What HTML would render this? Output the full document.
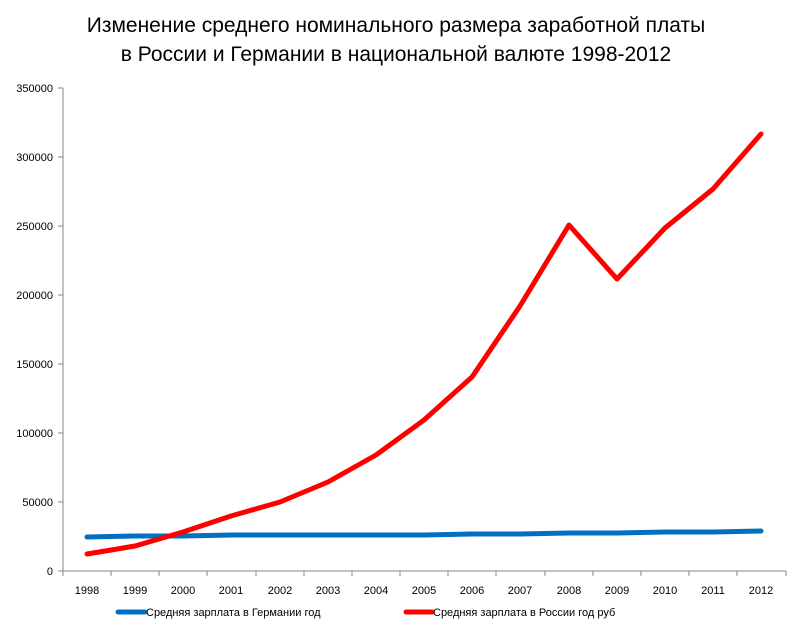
<!DOCTYPE html>
<html><head><meta charset="utf-8"><style>body{margin:0;background:#fff}</style></head><body>
<svg width="793" height="630" xmlns="http://www.w3.org/2000/svg" font-family="Liberation Sans, DejaVu Sans, sans-serif">
<rect width="793" height="630" fill="#fff"/>
<text x="396" y="32" font-size="21" text-anchor="middle" fill="#000">Изменение среднего номинального размера заработной платы</text>
<text x="396" y="61" font-size="21" text-anchor="middle" fill="#000">в России и Германии в национальной валюте 1998-2012</text>
<g stroke="#868686" stroke-width="1">
<line x1="63" y1="88" x2="63" y2="571"/>
<line x1="63" y1="571" x2="786" y2="571"/>
<line x1="58" y1="88" x2="63" y2="88"/><line x1="58" y1="157" x2="63" y2="157"/><line x1="58" y1="226" x2="63" y2="226"/><line x1="58" y1="295" x2="63" y2="295"/><line x1="58" y1="364" x2="63" y2="364"/><line x1="58" y1="433" x2="63" y2="433"/><line x1="58" y1="502" x2="63" y2="502"/><line x1="58" y1="571" x2="63" y2="571"/>
<line x1="63" y1="571" x2="63" y2="576"/><line x1="111" y1="571" x2="111" y2="576"/><line x1="159" y1="571" x2="159" y2="576"/><line x1="207" y1="571" x2="207" y2="576"/><line x1="256" y1="571" x2="256" y2="576"/><line x1="304" y1="571" x2="304" y2="576"/><line x1="352" y1="571" x2="352" y2="576"/><line x1="400" y1="571" x2="400" y2="576"/><line x1="448" y1="571" x2="448" y2="576"/><line x1="496" y1="571" x2="496" y2="576"/><line x1="545" y1="571" x2="545" y2="576"/><line x1="593" y1="571" x2="593" y2="576"/><line x1="641" y1="571" x2="641" y2="576"/><line x1="689" y1="571" x2="689" y2="576"/><line x1="737" y1="571" x2="737" y2="576"/><line x1="786" y1="571" x2="786" y2="576"/>
</g>
<g font-size="11" fill="#000" text-anchor="end">
<text x="53" y="92">350000</text><text x="53" y="161">300000</text><text x="53" y="230">250000</text><text x="53" y="299">200000</text><text x="53" y="368">150000</text><text x="53" y="437">100000</text><text x="53" y="506">50000</text><text x="53" y="575">0</text>
</g>
<g font-size="11" fill="#000" text-anchor="middle">
<text x="87" y="594">1998</text><text x="135" y="594">1999</text><text x="183" y="594">2000</text><text x="231" y="594">2001</text><text x="280" y="594">2002</text><text x="328" y="594">2003</text><text x="376" y="594">2004</text><text x="424" y="594">2005</text><text x="472" y="594">2006</text><text x="520" y="594">2007</text><text x="569" y="594">2008</text><text x="617" y="594">2009</text><text x="665" y="594">2010</text><text x="713" y="594">2011</text><text x="761" y="594">2012</text>
</g>
<polyline fill="none" stroke="#0070C0" stroke-width="5" stroke-linejoin="round" stroke-linecap="round" points="87,537 135,536 183,536 231,535 280,535 328,535 376,535 424,535 472,534 520,534 569,533 617,533 665,532 713,532 761,531"/>
<polyline fill="none" stroke="#FF0000" stroke-width="5" stroke-linejoin="round" stroke-linecap="round" points="87,554 135,546 183,532 231,516 280,502 328,482 376,455 424,420 472,377 520,306 569,225 617,279 665,228 713,189 761,134"/>
<line x1="118" y1="612" x2="145" y2="612" stroke="#0070C0" stroke-width="5" stroke-linecap="round"/>
<text x="146" y="616" font-size="11" fill="#000">Средняя  зарплата в Германии год</text>
<line x1="406" y1="612" x2="432" y2="612" stroke="#FF0000" stroke-width="5" stroke-linecap="round"/>
<text x="433" y="616" font-size="11" fill="#000">Средняя  зарплата в России год руб</text>
</svg>
</body></html>
